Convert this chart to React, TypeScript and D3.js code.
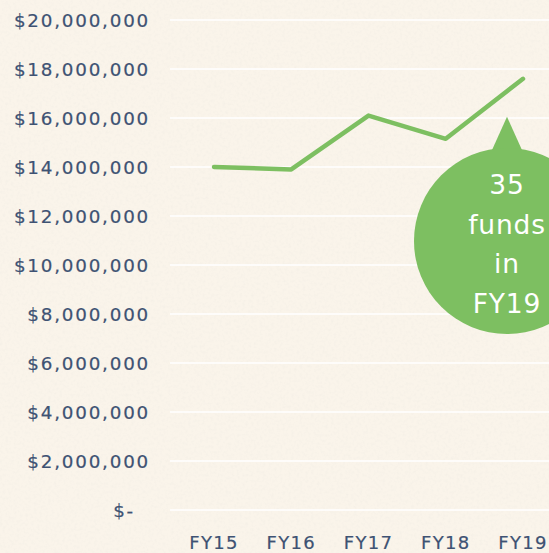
import React from "react";
import * as d3 from "d3";

const categories = ["FY15", "FY16", "FY17", "FY18", "FY19"];
const values = [14000000, 13900000, 16100000, 15150000, 17600000];
const yTicks = [0, 2000000, 4000000, 6000000, 8000000, 10000000, 12000000, 14000000, 16000000, 18000000, 20000000];
const bubbleLines = ["35", "funds", "in", "FY19"];

const W = 549;
const H = 553;
const GREEN = "#7dbf61";
const NAVY = "#3e5273";
const FONT = "'DejaVu Sans', sans-serif";

export default function App() {
  const x = d3.scalePoint<string>().domain(categories).range([214, 523]);
  const y = d3.scaleLinear().domain([0, 20000000]).range([510, 20]);
  const fmt = (v: number) => (v === 0 ? "$-" : "$" + d3.format(",")(v));
  const line = d3
    .line<number>()
    .x((_, i) => x(categories[i]) as number)
    .y((d) => y(d));

  const last = categories.length - 1;
  const bx = x(categories[last]) as number;
  const by = y(values[last]);
  const cx = bx - 16;
  const cy = 241;
  const r = 93;

  return (
    <svg width={W} height={H} style={{ position: "absolute", left: 0, top: 0, display: "block" }}>
      <defs>
        <filter id="tex" x="0" y="0" width="100%" height="100%">
          <feTurbulence type="fractalNoise" baseFrequency="0.35" numOctaves="2" seed="3" result="n" />
          <feColorMatrix
            in="n"
            type="matrix"
            values="0 0 0 0 0.85  0 0 0 0 0.82  0 0 0 0 0.76  0 0 0 -2.2 1.25"
          />
        </filter>
      </defs>
      <rect width={W} height={H} fill="#faf4ea" />
      <rect width={W} height={H} filter="url(#tex)" opacity={0.35} />
      {yTicks.map((t) => (
        <line key={"g" + t} x1={170} x2={W} y1={y(t)} y2={y(t)} stroke="#ffffff" strokeWidth={1.6} />
      ))}
      {yTicks.map((t) => (
        <text
          key={"t" + t}
          x={t === 0 ? 135 : 150}
          y={y(t)}
          dy="0.36em"
          textAnchor="end"
          fontFamily={FONT}
          fontSize={18.3}
          letterSpacing={1.8}
          fill={NAVY}
          stroke={NAVY}
          strokeWidth={0.2}
        >
          {fmt(t)}
        </text>
      ))}
      {categories.map((c) => (
        <text
          key={c}
          x={x(c) as number}
          y={549}
          textAnchor="middle"
          fontFamily={FONT}
          fontSize={18}
          letterSpacing={1.3}
          fill={NAVY}
          stroke={NAVY}
          strokeWidth={0.2}
        >
          {c}
        </text>
      ))}
      <path d={line(values) || ""} fill="none" stroke={GREEN} strokeWidth={4.5} strokeLinecap="round" strokeLinejoin="round" />
      <g>
        <path d={`M${cx},${by + 38} L${cx - 24},${cy - r + 22} L${cx + 24},${cy - r + 22} Z`} fill={GREEN} />
        <circle cx={cx} cy={cy} r={r} fill={GREEN} />
        {bubbleLines.map((s, i) => (
          <text
            key={s}
            x={cx}
            y={194 + i * 39.5}
            textAnchor="middle"
            fontFamily={FONT}
            fontSize={26.5}
            letterSpacing={0.8}
            fill="#ffffff"
          >
            {s}
          </text>
        ))}
      </g>
    </svg>
  );
}
